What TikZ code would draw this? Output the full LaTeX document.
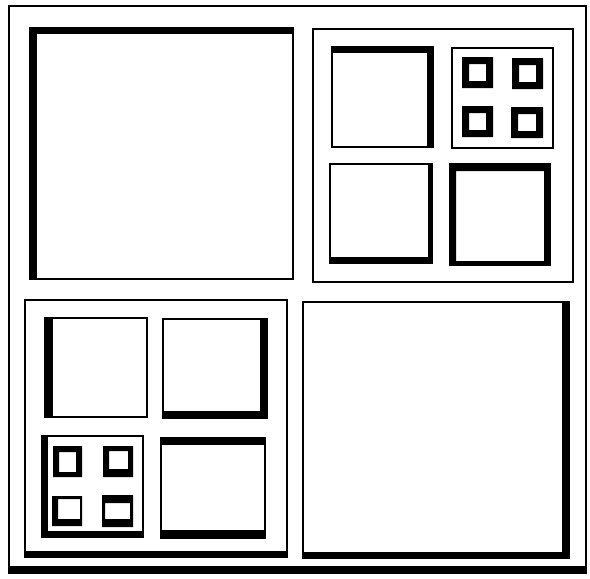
\documentclass[tikz,border=0pt]{standalone}
\begin{document}
\begin{tikzpicture}[x=1pt,y=-1pt,
  edge/.style={draw=black,line width=1.7pt},
  slab/.style={fill=black},
  ring/.style={fill=black,even odd rule}]
\useasboundingbox (0,0) rectangle (590,579);
\fill[white] (0,0) rectangle (590,579);
% outer frame
\draw[edge] (9,6) rectangle (586,570);
\fill[slab] (8,566) rectangle (587,574);

% top-left big square
\draw[edge] (30,28) rectangle (293,279);
\fill[slab] (30,28) rectangle (37,279);
\fill[slab] (30,28) rectangle (293,34);

% top-right panel
\draw[edge] (313,29) rectangle (573,282);
\draw[edge] (332,47) rectangle (433,147);
\fill[slab] (332,47) rectangle (433,53);
\fill[slab] (427,47) rectangle (433,147);
\draw[edge] (452,48) rectangle (553,148);
\fill[ring] (462,57) rectangle (493,88) (469,64) rectangle (486,81);
\fill[ring] (512,58) rectangle (543,89) (519,65) rectangle (536,82);
\fill[ring] (462,106) rectangle (493,137) (469,113) rectangle (486,130);
\fill[ring] (511,107) rectangle (543,138) (518,114) rectangle (536,131);
\draw[edge] (330,164) rectangle (432,263);
\fill[slab] (330,257) rectangle (432,263);
\fill[slab] (428,164) rectangle (432,263);
\draw[edge] (450,164) rectangle (550,265);
\fill[ring] (450,164) rectangle (550,265) (456,171) rectangle (544,261);

% bottom-left panel
\draw[edge] (25,300) rectangle (287,557);
\fill[slab] (25,551) rectangle (287,557);
\draw[edge] (45,318) rectangle (147,417);
\fill[slab] (45,318) rectangle (53,417);
\draw[edge] (163,319) rectangle (267,418);
\fill[slab] (260,319) rectangle (267,418);
\fill[slab] (163,411) rectangle (267,418);
\draw[edge] (42,436) rectangle (143,537);
\fill[slab] (42,436) rectangle (48,537);
\fill[slab] (42,531) rectangle (143,537);
\fill[ring] (53,446) rectangle (82,477) (59,452) rectangle (76,472);
\fill[ring] (103,446) rectangle (133,477) (109,451) rectangle (128,469);
\fill[ring] (52,496) rectangle (82,526) (58,499) rectangle (80,519);
\fill[ring] (102,495) rectangle (133,527) (105,503) rectangle (130,519);
\draw[edge] (161,438) rectangle (265,538);
\fill[slab] (161,438) rectangle (265,445);
\fill[slab] (161,530) rectangle (265,538);

% bottom-right big square
\draw[edge] (303,302) rectangle (569,558);
\fill[slab] (562,302) rectangle (569,558);
\fill[slab] (303,552) rectangle (569,558);
\end{tikzpicture}
\end{document}
